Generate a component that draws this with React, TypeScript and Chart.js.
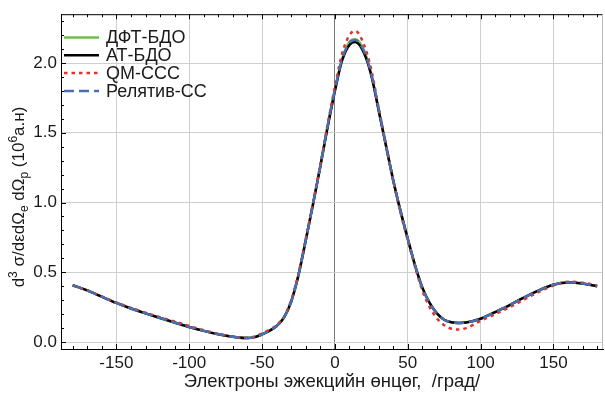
import { useEffect, useRef } from "react";
import { Chart, registerables } from "chart.js";
Chart.register(...registerables);

const angles = [-180, -170, -160, -150, -140, -130, -120, -110, -100, -90, -80, -70, -60, -55, -50, -45, -40, -35, -30, -25, -20, -15, -10, -5, 0, 5, 10, 14, 20, 25, 30, 35, 40, 45, 50, 55, 60, 65, 70, 75, 80, 85, 90, 100, 110, 120, 130, 140, 150, 160, 170, 180];

const atBdo = [0.408, 0.37, 0.325, 0.28, 0.24, 0.205, 0.172, 0.14, 0.108, 0.08, 0.056, 0.038, 0.028, 0.035, 0.055, 0.08, 0.115, 0.175, 0.29, 0.48, 0.73, 0.99, 1.26, 1.54, 1.8, 2.02, 2.13, 2.15, 2.07, 1.91, 1.66, 1.41, 1.16, 0.94, 0.74, 0.55, 0.39, 0.28, 0.205, 0.16, 0.142, 0.137, 0.14, 0.167, 0.215, 0.265, 0.32, 0.37, 0.41, 0.427, 0.42, 0.4];

const dftBdo = [0.408, 0.37, 0.325, 0.28, 0.24, 0.205, 0.172, 0.14, 0.108, 0.08, 0.056, 0.038, 0.028, 0.035, 0.055, 0.08, 0.115, 0.175, 0.29, 0.48, 0.73, 0.99, 1.26, 1.55, 1.81, 2.03, 2.15, 2.17, 2.09, 1.92, 1.67, 1.41, 1.16, 0.94, 0.74, 0.55, 0.39, 0.28, 0.205, 0.16, 0.142, 0.137, 0.14, 0.167, 0.215, 0.265, 0.32, 0.37, 0.41, 0.427, 0.42, 0.4];

const qmCcc = [0.405, 0.37, 0.327, 0.283, 0.245, 0.21, 0.178, 0.147, 0.115, 0.085, 0.058, 0.038, 0.03, 0.04, 0.062, 0.088, 0.122, 0.18, 0.3, 0.49, 0.74, 1.0, 1.27, 1.56, 1.83, 2.07, 2.2, 2.23, 2.13, 1.95, 1.68, 1.42, 1.16, 0.93, 0.73, 0.54, 0.37, 0.25, 0.17, 0.12, 0.095, 0.09, 0.1, 0.152, 0.2, 0.25, 0.305, 0.36, 0.405, 0.432, 0.425, 0.405];

const relCc = [0.408, 0.37, 0.325, 0.28, 0.24, 0.205, 0.172, 0.14, 0.108, 0.08, 0.056, 0.038, 0.028, 0.035, 0.055, 0.08, 0.115, 0.175, 0.29, 0.48, 0.73, 0.99, 1.26, 1.55, 1.81, 2.03, 2.145, 2.165, 2.085, 1.92, 1.67, 1.41, 1.16, 0.94, 0.74, 0.55, 0.39, 0.28, 0.205, 0.16, 0.142, 0.137, 0.14, 0.167, 0.215, 0.265, 0.32, 0.37, 0.41, 0.427, 0.42, 0.4];

const seriesLabels = ["ДФТ-БДО", "АТ-БДО", "QM-CCC", "Релятив-СС"];
const xTicks = [-150, -100, -50, 0, 50, 100, 150];
const yTicks = [0, 0.5, 1.0, 1.5, 2.0];
const xTitle = "Электроны эжекцийн өнцөг,  /град/";
// y title pieces: [text, kind] kind: n normal, sup, sub
const yTitleParts: [string, string][] = [
  ["d", "n"], ["3", "sup"], [" σ/dεdΩ", "n"], ["e", "sub"], [" dΩ", "n"], ["p", "sub"], [" (10", "n"], ["6", "sup"], ["a.н)", "n"],
];

const FONT_FAMILY = "'Liberation Sans', Arial, sans-serif";
const TEXT_COLOR = "#1a1a1a";

export default function App() {
  const ref = useRef<HTMLCanvasElement>(null);
  useEffect(() => {
    const mk = (vals: number[]) => angles.map((a, i) => ({ x: a, y: vals[i] }));
    const styles = [
      { data: dftBdo, color: "#6cbf45", dash: [] as number[], order: 4 },
      { data: atBdo, color: "#000000", dash: [] as number[], order: 3 },
      { data: qmCcc, color: "#e2322b", dash: [3.5, 4], order: 2 },
      { data: relCc, color: "#4d6db3", dash: [10, 5], order: 1 },
    ];

    const framePlugin = {
      id: "frame",
      afterDraw(chart: any) {
        const { ctx, chartArea: a, scales } = chart;
        const xs = scales.x, ys = scales.y;
        ctx.save();
        ctx.strokeStyle = "#000";
        ctx.lineWidth = 1;
        ctx.beginPath();
        ctx.moveTo(a.left, a.top + 0.5);
        ctx.lineTo(a.right, a.top + 0.5);
        ctx.stroke();
        ctx.strokeStyle = "#bbbbbb";
        ctx.beginPath();
        ctx.moveTo(a.right - 0.5, a.top);
        ctx.lineTo(a.right - 0.5, a.bottom);
        ctx.stroke();
        ctx.strokeStyle = "#000";
        for (let v = -180; v <= 180; v += 10) {
          const px = Math.round(xs.getPixelForValue(v)) + 0.5;
          const len = v % 50 === 0 ? 5 : 3;
          ctx.beginPath();
          ctx.moveTo(px, a.bottom);
          ctx.lineTo(px, a.bottom - len);
          ctx.moveTo(px, a.top);
          ctx.lineTo(px, a.top + len);
          ctx.stroke();
        }
        for (let i = 0; i <= 23; i++) {
          const v = i / 10;
          const py = Math.round(ys.getPixelForValue(v)) + 0.5;
          const len = i % 5 === 0 ? 5 : 3;
          ctx.beginPath();
          ctx.moveTo(a.left, py);
          ctx.lineTo(a.left + len, py);
          ctx.stroke();
        }
        // legend
        ctx.font = `18px ${FONT_FAMILY}`;
        ctx.textBaseline = "middle";
        ctx.fillStyle = TEXT_COLOR;
        chart.data.datasets.forEach((ds: any, i: number) => {
          const y = 37.5 + i * 17.8;
          ctx.save();
          ctx.strokeStyle = ds.borderColor;
          ctx.lineWidth = 2.5;
          ctx.setLineDash(ds.borderDash || []);
          ctx.beginPath();
          ctx.moveTo(64, y);
          ctx.lineTo(99, y);
          ctx.stroke();
          ctx.restore();
          ctx.fillText(ds.label, 106, y + 1);
        });
        // y title
        ctx.save();
        ctx.translate(18, 197);
        ctx.rotate(-Math.PI / 2);
        const big = `17px ${FONT_FAMILY}`;
        const small = `12px ${FONT_FAMILY}`;
        let total = 0;
        yTitleParts.forEach(([t, k]) => {
          ctx.font = k === "n" ? big : small;
          total += ctx.measureText(t).width;
        });
        let x = -total / 2;
        ctx.textBaseline = "alphabetic";
        yTitleParts.forEach(([t, k]) => {
          ctx.font = k === "n" ? big : small;
          const dy = k === "sup" ? -7 : k === "sub" ? 4 : 0;
          ctx.fillText(t, x, 6 + dy);
          x += ctx.measureText(t).width;
        });
        ctx.restore();
        ctx.restore();
      },
    };

    const tickFont = { family: FONT_FAMILY, size: 17 };
    const titleFont = { family: FONT_FAMILY, size: 18.5 };
    const chart = new Chart(ref.current!, {
      type: "line",
      data: {
        datasets: styles.map((s, i) => ({
          label: seriesLabels[i],
          data: mk(s.data),
          borderColor: s.color,
          backgroundColor: s.color,
          borderDash: s.dash,
          borderWidth: 2.5,
          pointRadius: 0,
          cubicInterpolationMode: "monotone" as const,
          fill: false,
          order: s.order,
        })),
      },
      options: {
        responsive: false,
        animation: false,
        devicePixelRatio: 1,
        layout: { padding: { top: 10, right: 2, left: 0, bottom: 0 } },
        plugins: { legend: { display: false }, tooltip: { enabled: false } },
        scales: {
          x: {
            type: "linear",
            min: -188,
            max: 184,
            afterBuildTicks: (s: any) => {
              s.ticks = xTicks.map((v) => ({ value: v }));
            },
            afterFit: (s: any) => {
              s.height = 45;
            },
            grid: {
              color: (c: any) => (c.tick && c.tick.value === 0 ? "#7a7a7a" : "#cfcfcf"),
              drawTicks: false,
              lineWidth: 1,
            },
            border: { color: "#000", width: 1 },
            ticks: { font: tickFont, color: TEXT_COLOR, padding: 4, maxRotation: 0, callback: (v: any) => String(v) },
            title: { display: true, text: xTitle, font: titleFont, color: TEXT_COLOR, padding: { top: 0, bottom: 1 } },
          },
          y: {
            type: "linear",
            min: -0.05,
            max: 2.35,
            afterBuildTicks: (s: any) => {
              s.ticks = yTicks.map((v) => ({ value: v }));
            },
            afterFit: (s: any) => {
              s.width = 61;
            },
            grid: { color: "#cfcfcf", drawTicks: false, lineWidth: 1 },
            border: { color: "#000", width: 1 },
            ticks: { font: tickFont, color: TEXT_COLOR, padding: 4, callback: (v: any) => Number(v).toFixed(1) },
          },
        },
      },
      plugins: [framePlugin],
    });
    return () => chart.destroy();
  }, []);
  return (
    <div style={{ position: "absolute", left: 0, top: 0, width: 605, height: 394, background: "#fff" }}>
      <canvas ref={ref} width={605} height={394} style={{ display: "block" }} />
    </div>
  );
}
